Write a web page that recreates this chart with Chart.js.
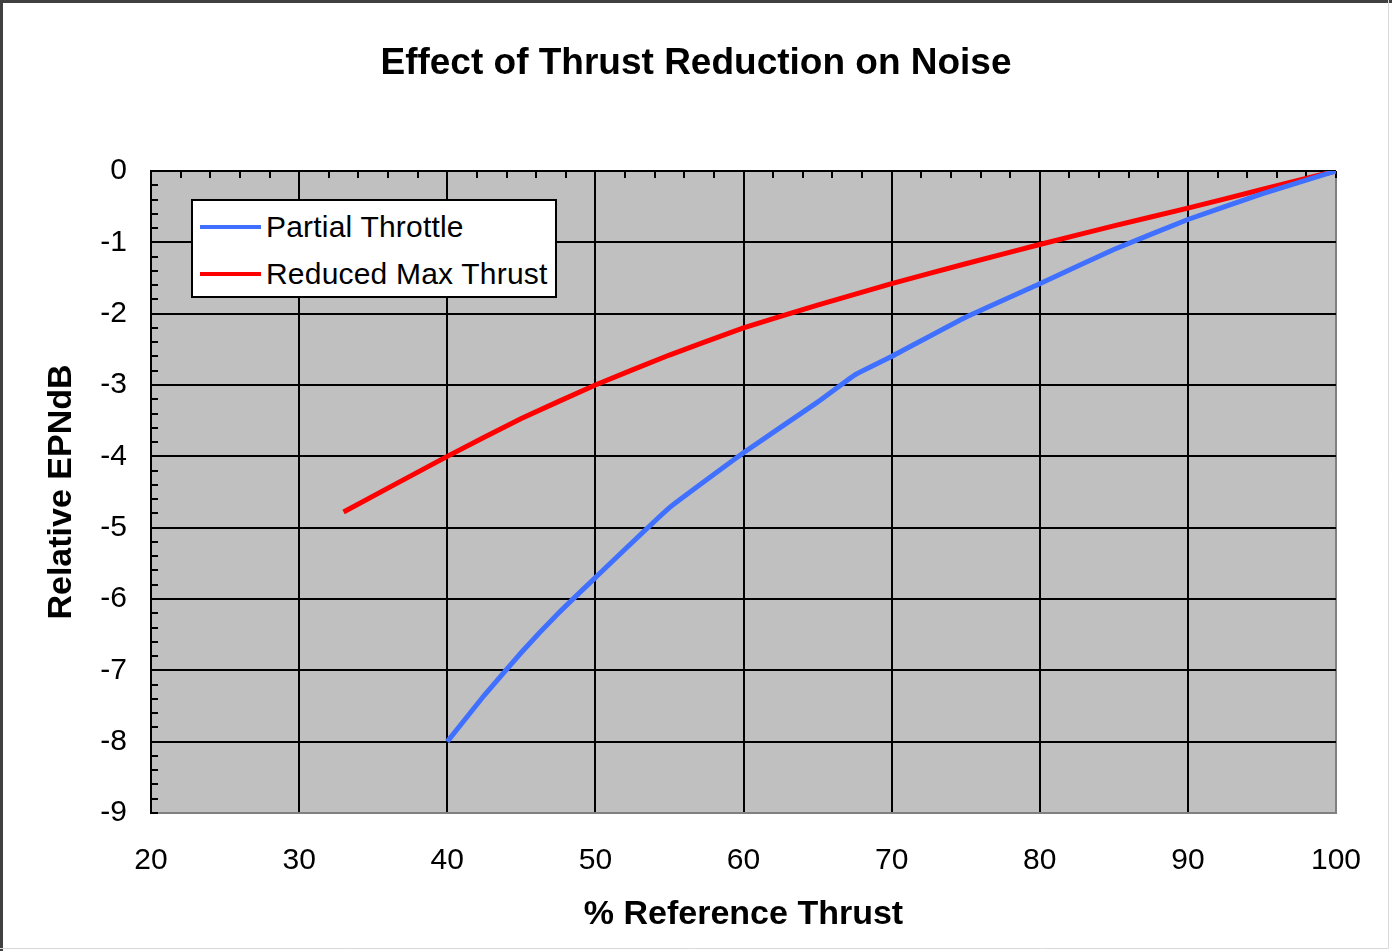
<!DOCTYPE html>
<html>
<head>
<meta charset="utf-8">
<script src="https://cdn.jsdelivr.net/npm/chart.js@4"></script>
<style>
  body { margin: 0; background: #fff; }
  #wrap { position: relative; width: 1392px; height: 951px; }
  #legend {
    position: absolute; box-sizing: border-box;
    width: 366px; height: 99px;
    background: #fff; border: 2px solid #000;
    font-family: "Liberation Sans", Arial, sans-serif; font-size: 30px; color: #000;
    letter-spacing: 0.2px;
    padding-top: 2px;
  }
  #legend .row { display: flex; align-items: center; height: 47px; }
  #legend .sw { width: 61px; height: 4px; margin-left: 7px; margin-right: 5px; }
</style>
</head>
<body>
<div id="wrap">
  <canvas id="chart" width="1392" height="951"></canvas>
  <div id="legend"></div>
</div>
<script>
// values
const seriesNames = ['Partial Throttle', 'Reduced Max Thrust'];
const seriesColors = ['#4070ff', '#ff0000'];

const partialX = [40, 42.5, 45, 47.5, 50, 55, 60, 65, 67.5, 70, 75, 80, 85, 90, 95, 100];
const partialY = [-8.0, -7.35, -6.75, -6.2, -5.7, -4.72, -3.95, -3.24, -2.86, -2.6, -2.05, -1.58, -1.1, -0.68, -0.32, 0];

const reducedX = [33, 40, 45, 50, 55, 60, 65, 70, 75, 80, 85, 90, 95, 100];
const reducedY = [-4.78, -4.0, -3.47, -3.0, -2.58, -2.2, -1.88, -1.58, -1.3, -1.03, -0.77, -0.52, -0.26, 0];

const xTicks = [20, 30, 40, 50, 60, 70, 80, 90, 100];
const yTicks = [0, -1, -2, -3, -4, -5, -6, -7, -8, -9];

const FONT = '"Liberation Sans", Arial, sans-serif';

function toPoints(xs, ys) {
  return xs.map((x, i) => ({ x: x, y: ys[i] }));
}

// white page, frame and grey plot area
const plotBg = {
  id: 'plotBg',
  beforeDraw(chart) {
    const ctx = chart.ctx;
    const a = chart.chartArea;
    ctx.save();
    ctx.fillStyle = '#fff';
    ctx.fillRect(0, 0, chart.width, chart.height);
    ctx.fillStyle = '#c0c0c0';
    ctx.fillRect(a.left, a.top, a.right - a.left, a.bottom - a.top);
    ctx.strokeStyle = '#404040';
    ctx.lineWidth = 3;
    ctx.beginPath();
    ctx.moveTo(1.5, chart.height);
    ctx.lineTo(1.5, 1.5);
    ctx.lineTo(chart.width, 1.5);
    ctx.stroke();
    ctx.strokeStyle = '#d8d8d8';
    ctx.lineWidth = 1;
    ctx.beginPath();
    ctx.moveTo(chart.width - 3.5, 0);
    ctx.lineTo(chart.width - 3.5, chart.height - 2.5);
    ctx.lineTo(0, chart.height - 2.5);
    ctx.stroke();
    ctx.restore();
  }
};

// small inward ticks along the top and left edges
const minorTicks = {
  id: 'minorTicks',
  beforeDatasetsDraw(chart) {
    const ctx = chart.ctx;
    const a = chart.chartArea;
    const xs = chart.scales.x;
    const ys = chart.scales.y;
    ctx.save();
    ctx.strokeStyle = '#000';
    ctx.lineWidth = 2;
    ctx.beginPath();
    for (let v = xs.min; v <= xs.max; v += 2) {
      const px = Math.round(xs.getPixelForValue(v));
      ctx.moveTo(px, a.top);
      ctx.lineTo(px, a.top + 7);
    }
    for (let k = 0; k <= 45; k++) {
      const py = Math.round(ys.getPixelForValue(ys.max - k * 0.2));
      ctx.moveTo(a.left, py);
      ctx.lineTo(a.left + 7, py);
    }
    ctx.stroke();
    // top edge
    ctx.beginPath();
    ctx.moveTo(a.left, a.top);
    ctx.lineTo(a.right, a.top);
    ctx.stroke();
    ctx.restore();
  }
};

// html legend sitting inside the plot
const boxLegend = {
  id: 'boxLegend',
  afterRender(chart) {
    const el = document.getElementById('legend');
    const a = chart.chartArea;
    el.style.left = (a.left + 40) + 'px';
    el.style.top = (a.top + 28) + 'px';
    if (el.childNodes.length) return;
    chart.data.datasets.forEach(ds => {
      const row = document.createElement('div');
      row.className = 'row';
      const sw = document.createElement('span');
      sw.className = 'sw';
      sw.style.background = ds.borderColor;
      const txt = document.createElement('span');
      txt.textContent = ds.label;
      row.appendChild(sw);
      row.appendChild(txt);
      el.appendChild(row);
    });
  }
};

Chart.defaults.color = '#000';

const ctx = document.getElementById('chart').getContext('2d');
const chart = new Chart(ctx, {
  type: 'line',
  data: {
    datasets: [
      {
        label: seriesNames[0],
        data: toPoints(partialX, partialY),
        borderColor: seriesColors[0],
        borderWidth: 5,
        pointRadius: 0,
        tension: 0.1,
        fill: false
      },
      {
        label: seriesNames[1],
        data: toPoints(reducedX, reducedY),
        borderColor: seriesColors[1],
        borderWidth: 5,
        pointRadius: 0,
        tension: 0.1,
        fill: false
      }
    ]
  },
  options: {
    responsive: false,
    animation: false,
    layout: { padding: 0 },
    plugins: {
      legend: { display: false },
      tooltip: { enabled: false },
      title: {
        display: true,
        text: 'Effect of Thrust Reduction on Noise',
        color: '#000',
        font: { family: FONT, size: 37, weight: 'bold' },
        padding: { top: 42, bottom: 84.6 }
      }
    },
    scales: {
      x: {
        type: 'linear',
        min: xTicks[0],
        max: xTicks[xTicks.length - 1],
        afterBuildTicks: s => { s.ticks = xTicks.map(v => ({ value: v })); },
        afterFit: s => { s.height = 138; },
        grid: {
          color: c => (c.tick && c.tick.value === 100) ? '#808080' : '#000',
          lineWidth: 2,
          drawTicks: false
        },
        border: { color: '#808080', width: 2 },
        ticks: {
          font: { family: FONT, size: 30 },
          padding: 30,
          maxRotation: 0,
          autoSkip: false
        },
        title: {
          display: true,
          text: '% Reference Thrust',
          font: { family: FONT, size: 34, weight: 'bold' },
          padding: { top: 0, bottom: 16 }
        }
      },
      y: {
        type: 'linear',
        min: -9,
        max: 0,
        afterBuildTicks: s => { s.ticks = yTicks.map(v => ({ value: v })); },
        afterFit: s => { s.width = 151; },
        grid: {
          color: '#000',
          lineWidth: 2,
          drawTicks: false
        },
        border: { color: '#000', width: 2 },
        ticks: {
          font: { family: FONT, size: 30 },
          padding: 24,
          autoSkip: false
        },
        title: {
          display: true,
          text: 'Relative EPNdB',
          font: { family: FONT, size: 34, weight: 'bold' },
          padding: { top: 41, bottom: 0 }
        }
      },
      // empty strip on the right so the plot ends where the reference does
      yRight: {
        type: 'linear',
        position: 'right',
        min: -9,
        max: 0,
        afterFit: s => { s.width = 56; },
        grid: { display: false, drawOnChartArea: false },
        border: { display: false },
        ticks: { display: false }
      }
    }
  },
  plugins: [plotBg, minorTicks, boxLegend]
});
</script>
</body>
</html>
